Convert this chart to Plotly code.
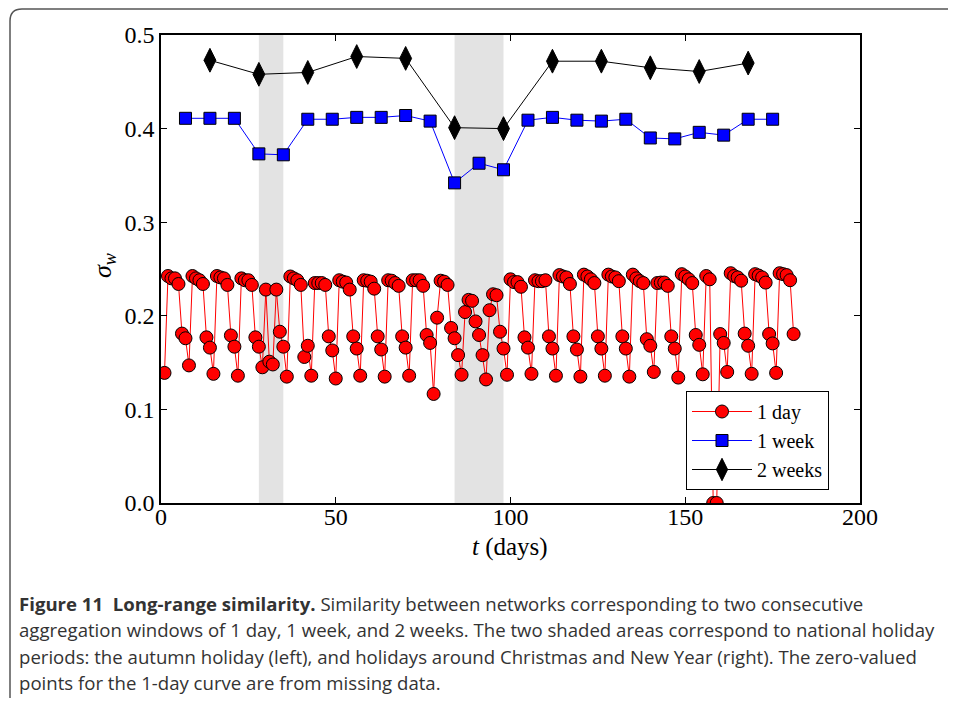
import plotly.graph_objects as go

# ---------------- data ----------------
day_x = list(range(1, 182))
day_sigma = [
    0.139, 0.2425, 0.240, 0.240, 0.234, 0.181, 0.176, 0.147, 0.2425, 0.240,
    0.238, 0.234, 0.177, 0.166, 0.138, 0.2425, 0.241, 0.240, 0.233, 0.179,
    0.167, 0.136, 0.240, 0.238, 0.238, 0.233, 0.177, 0.167, 0.145, 0.228,
    0.151, 0.148, 0.228, 0.183, 0.167, 0.135, 0.242, 0.240, 0.238, 0.233,
    0.156, 0.168, 0.136, 0.235, 0.235, 0.235, 0.233, 0.178, 0.163, 0.133,
    0.238, 0.2365, 0.2355, 0.228, 0.178, 0.165, 0.136, 0.238, 0.2375, 0.2365,
    0.229, 0.178, 0.164, 0.135, 0.238, 0.2375, 0.235, 0.232, 0.178, 0.166,
    0.136, 0.238, 0.238, 0.238, 0.232, 0.1795, 0.171, 0.1165, 0.198, 0.2375,
    0.2365, 0.233, 0.187, 0.176, 0.158, 0.137, 0.204, 0.217, 0.216, 0.194,
    0.1795, 0.158, 0.132, 0.206, 0.223, 0.222, 0.183, 0.165, 0.137, 0.239,
    0.236, 0.236, 0.231, 0.177, 0.166, 0.138, 0.238, 0.237, 0.237, 0.238,
    0.178, 0.165, 0.136, 0.2435, 0.242, 0.241, 0.234, 0.178, 0.164, 0.135,
    0.244, 0.242, 0.239, 0.235, 0.178, 0.165, 0.136, 0.244, 0.242, 0.241,
    0.237, 0.178, 0.165, 0.135, 0.244, 0.240, 0.237, 0.235, 0.175, 0.168,
    0.140, 0.235, 0.2355, 0.2355, 0.232, 0.178, 0.165, 0.134, 0.2445, 0.242,
    0.239, 0.235, 0.1795, 0.169, 0.1375, 0.2425, 0.239, 0.0, 0.0, 0.1805,
    0.171, 0.140, 0.2455, 0.2425, 0.241, 0.2375, 0.181, 0.168, 0.138, 0.2445,
    0.243, 0.241, 0.2355, 0.1805, 0.1705, 0.139, 0.2455, 0.2445, 0.2435, 0.238,
    0.1805,
]

week_x = [7, 14, 21, 28, 35, 42, 49, 56, 63, 70, 77, 84, 91, 98, 105, 112,
          119, 126, 133, 140, 147, 154, 161, 168, 175]
week_sigma = [0.411, 0.411, 0.411, 0.373, 0.372, 0.410, 0.410, 0.412, 0.412,
              0.414, 0.408, 0.342, 0.363, 0.356, 0.409, 0.412, 0.409, 0.408,
              0.410, 0.390, 0.389, 0.396, 0.393, 0.410, 0.410]

biweek_x = [14, 28, 42, 56, 70, 84, 98, 112, 126, 140, 154, 168]
biweek_sigma = [0.473, 0.458, 0.460, 0.477, 0.475, 0.401, 0.400, 0.472,
                0.472, 0.465, 0.461, 0.470]

holidays = [(28, 35), (84, 98)]

x_ticks = [0, 50, 100, 150, 200]
y_ticks = [0.0, 0.1, 0.2, 0.3, 0.4, 0.5]

caption_lines = [
    "<b>Figure 11  Long-range similarity.</b> Similarity between networks corresponding to two consecutive",
    "aggregation windows of 1 day, 1 week, and 2 weeks. The two shaded areas correspond to national holiday",
    "periods: the autumn holiday (left), and holidays around Christmas and New Year (right). The zero-valued",
    "points for the 1-day curve are from missing data.",
]

# ---------------- figure ----------------
SERIF = "Liberation Serif, DejaVu Serif, serif"
OFF = 8                       # page body margin of the html page
W, H = 940, 690
L, T = 161 - OFF, 35 - OFF
R = W - (860 - OFF)
B = H - (503 - OFF)
pw, ph = W - L - R, H - T - B


def px2x(px):
    return (px - OFF - L) / pw


def py2y(py):
    return (H - B - (py - OFF)) / ph


fig = go.Figure()

for a, b in holidays:
    fig.add_vrect(x0=a, x1=b, fillcolor="#e3e3e3", opacity=1, line_width=0,
                  layer="below")

fig.add_trace(go.Scatter(
    x=day_x, y=day_sigma, mode="lines+markers", name="1 day",
    line=dict(color="#ff0000", width=1),
    marker=dict(symbol="circle", size=13, color="#ff0000",
                line=dict(color="#000000", width=1)),
))
fig.add_trace(go.Scatter(
    x=week_x, y=week_sigma, mode="lines+markers", name="1 week",
    line=dict(color="#0000ff", width=1),
    marker=dict(symbol="square", size=12, color="#0000ff",
                line=dict(color="#000000", width=1)),
))
fig.add_trace(go.Scatter(
    x=biweek_x, y=biweek_sigma, mode="lines+markers", name="2 weeks",
    line=dict(color="#000000", width=1),
    marker=dict(symbol="diamond-tall", size=17, color="#000000",
                line=dict(color="#000000", width=1)),
))

axis_common = dict(
    showgrid=False, zeroline=False, showline=True, linecolor="black",
    linewidth=1.5, mirror="ticks", ticks="inside", ticklen=6, tickwidth=1,
    tickcolor="black", tickfont=dict(family=SERIF, size=24, color="black"),
)

fig.update_xaxes(range=[0, 200], tickvals=x_ticks,
                 ticktext=[str(v) for v in x_ticks], ticklabelstandoff=-9,
                 **axis_common)
fig.update_yaxes(range=[0, 0.5], tickvals=y_ticks,
                 ticktext=[f"{v:.1f}" for v in y_ticks], **axis_common)

annotations = [
    dict(text="<i>t</i> (days)", x=px2x(510), y=py2y(547), xref="paper",
         yref="paper", showarrow=False, xanchor="center", yanchor="middle",
         font=dict(family=SERIF, size=25, color="black")),
    dict(text="<i>σ</i><sub><i>w</i></sub>", x=px2x(104), y=py2y(266),
         xref="paper", yref="paper", showarrow=False, textangle=-90,
         xanchor="center", yanchor="middle",
         font=dict(family=SERIF, size=26, color="black")),
]
for i, line in enumerate(caption_lines):
    annotations.append(dict(
        text=line, x=px2x(17), y=py2y(603 + i * 26.6), xref="paper",
        yref="paper", showarrow=False, xanchor="left", yanchor="middle",
        align="left", font=dict(family="Open Sans, sans-serif", size=18.6,
                                color="#333333")))

# frame around the figure (top and left edges with rounded corner)
xl, yt = px2x(10), py2y(9)
xr = px2x(960)
yb = py2y(712)
dx, dy = 12 / pw, 12 / ph
frame_path = (f"M {xl},{yb} L {xl},{yt - dy} Q {xl},{yt} {xl + dx},{yt} "
              f"L {xr},{yt}")
fig.add_shape(type="path", path=frame_path, xref="paper", yref="paper",
              fillcolor="rgba(0,0,0,0)",
              line=dict(color="#555555", width=1.5), layer="above")

fig.update_layout(
    width=W, height=H, margin=dict(l=L, r=R, t=T, b=B),
    paper_bgcolor="white", plot_bgcolor="white",
    showlegend=True,
    legend=dict(x=px2x(686), y=py2y(490), xanchor="left", yanchor="bottom",
                bgcolor="white", bordercolor="black", borderwidth=1,
                font=dict(family=SERIF, size=20, color="black"),
                itemwidth=60, tracegroupgap=0),
    annotations=annotations,
)

fig.write_html("out.html")
